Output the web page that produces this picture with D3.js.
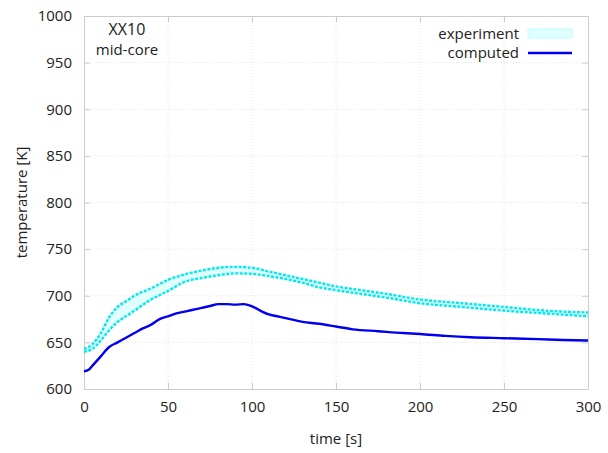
<!DOCTYPE html>
<html><head><meta charset="utf-8">
<script src="https://cdn.jsdelivr.net/npm/d3@7"></script>
<style>body{margin:0;background:#fff}svg{display:block}text{font-family:"Open Sans",sans-serif;fill:#222}</style>
</head><body><svg id="c" width="608" height="453"></svg>
<script>
const xTicks = [0,50,100,150,200,250,300];
const yTicks = [600,650,700,750,800,850,900,950,1000];
const expTime  = [0,5,10,15,20,25,30,40,50,60,70,80,90,100,110,120,130,140,150,165,180,200,225,250,275,300];
const expUpper = [643,648,660,677,688,694,700,708,717,723,727,730,731,730,726,722,718,714,710,706,702,696,692,688,684,682];
const expLower = [640,643,652,663,672,678,684,696,705,715,719,722,724,723.5,721,718,714,709,706,702,698,692,688,684,681,678];
const compTime = [0,3,6,10,15,20,25,30,35,40,45,50,55,60,65,70,75,80,85,90,95,98,102,106,110,115,120,130,140,150,160,175,190,200,215,230,250,270,285,300];
const computed = [619,621,627,635,645,650,655,660,665,669,675,678,681,683,685,687,689,691,691,690.5,691,690,687,683,680,678,676,672,670,667,664,662,660,659,657,655.5,654.5,653.5,652.5,652];

const svg = d3.select("#c");
const L=84,R=588,T=16,B=389;
const x = d3.scaleLinear().domain([0,300]).range([L,R]);
const y = d3.scaleLinear().domain([600,1000]).range([B,T]);

svg.append("g").selectAll("line").data(xTicks.slice(1,-1)).join("line")
  .attr("x1",d=>x(d)).attr("x2",d=>x(d)).attr("y1",T).attr("y2",B)
  .attr("stroke","#e4e4e4").attr("stroke-dasharray","1,2");
svg.append("g").selectAll("line").data(yTicks.slice(1,-1)).join("line")
  .attr("y1",d=>y(d)).attr("y2",d=>y(d)).attr("x1",L).attr("x2",R)
  .attr("stroke","#e4e4e4").attr("stroke-dasharray","1,2");

const fmt = d3.format("d");
const xa = svg.append("g").attr("transform",`translate(0,${B})`)
  .call(d3.axisBottom(x).tickValues(xTicks).tickFormat(fmt).tickSizeInner(-6).tickSizeOuter(0).tickPadding(12));
const xa2 = svg.append("g").attr("transform",`translate(0,${T})`)
  .call(d3.axisTop(x).tickValues(xTicks).tickSizeInner(-6).tickSizeOuter(0).tickFormat(""));
const ya = svg.append("g").attr("transform",`translate(${L},0)`)
  .call(d3.axisLeft(y).tickValues(yTicks).tickFormat(fmt).tickSizeInner(-6).tickSizeOuter(0).tickPadding(12));
const ya2 = svg.append("g").attr("transform",`translate(${R},0)`)
  .call(d3.axisRight(y).tickValues(yTicks).tickSizeInner(-6).tickSizeOuter(0).tickFormat(""));
[xa,xa2,ya,ya2].forEach(g=>{
  g.select(".domain").attr("stroke","#cccccc");
  g.selectAll(".tick line").attr("stroke","#cccccc");
  g.selectAll(".tick text").style("font-size","15px").style("font-family","'Open Sans',sans-serif").attr("fill","#222");
});

const expData = expTime.map((t,i)=>({t,u:expUpper[i],l:expLower[i]}));
svg.append("path").datum(expData)
  .attr("d",d3.area().x(d=>x(d.t)).y0(d=>y(d.l)).y1(d=>y(d.u)).curve(d3.curveMonotoneX))
  .attr("fill","#e0ffff");
["u","l"].forEach(k=>{
  svg.append("path").datum(expData)
    .attr("d",d3.line().x(d=>x(d.t)).y(d=>y(d[k])).curve(d3.curveMonotoneX))
    .attr("fill","none").attr("stroke","#00e8f0").attr("stroke-width",2.4).attr("stroke-dasharray","3,1.5");
});
svg.append("path").datum(compTime.map((t,i)=>({t,v:computed[i]})))
  .attr("d",d3.line().x(d=>x(d.t)).y(d=>y(d.v)).curve(d3.curveMonotoneX))
  .attr("fill","none").attr("stroke","#0000ee").attr("stroke-width",2.4);

svg.append("text").attr("x",(L+R)/2).attr("y",444).attr("text-anchor","middle").style("font-size","15px").text("time [s]");
svg.append("text").attr("transform",`translate(27,${(T+B)/2}) rotate(-90)`).attr("text-anchor","middle").style("font-size","15px").text("temperature [K]");
svg.append("text").attr("x",127).attr("y",35).attr("text-anchor","middle").style("font-size","16px").text("XX10");
svg.append("text").attr("x",127).attr("y",55).attr("text-anchor","middle").style("font-size","15px").text("mid-core");

svg.append("text").attr("x",519).attr("y",39).attr("text-anchor","end").style("font-size","15px").text("experiment");
svg.append("rect").attr("x",528).attr("y",29).attr("width",44).attr("height",9).attr("fill","#e0ffff").attr("stroke","#b8ffff");
svg.append("text").attr("x",519).attr("y",58).attr("text-anchor","end").style("font-size","15px").text("computed");
svg.append("line").attr("x1",528).attr("x2",572).attr("y1",53).attr("y2",53).attr("stroke","#0000ee").attr("stroke-width",2.4);
</script></body></html>
